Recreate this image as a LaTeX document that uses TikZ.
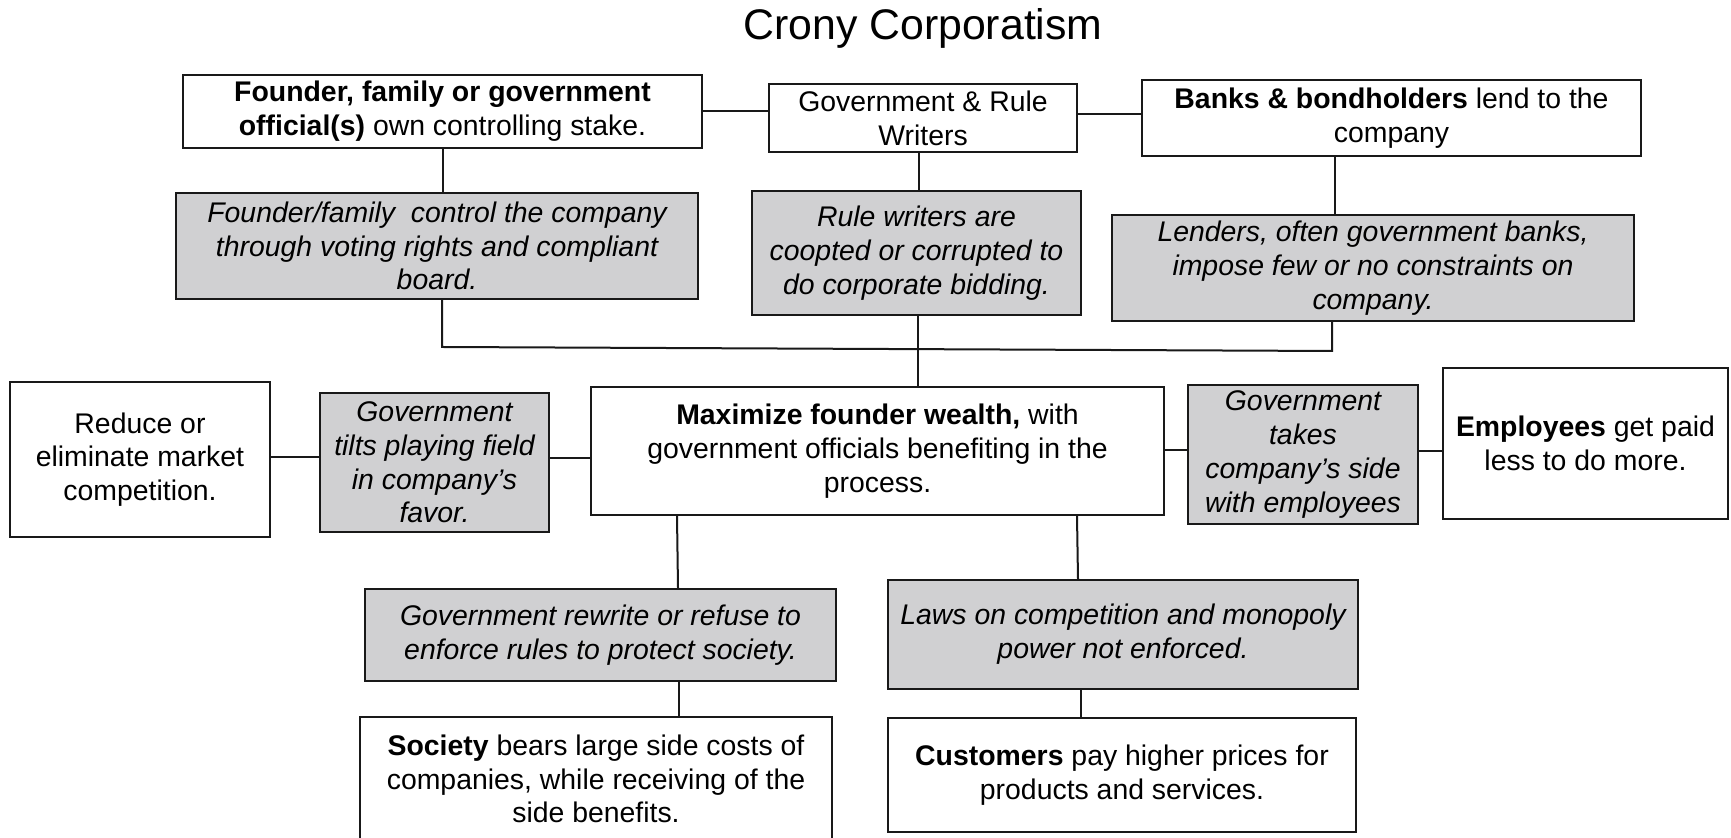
\documentclass[tikz,border=0pt]{standalone}
\usepackage{fontspec}
\setmainfont{Liberation Sans}
\begin{document}
\begin{tikzpicture}[x=0.5pt,y=-0.5pt,
  every node/.style={inner sep=0pt, align=center, font=\fontsize{14.2pt}{16.9pt}\selectfont},
  sz/.style 2 args={minimum width=#1*0.5pt, minimum height=#2*0.5pt},
  plainbox/.style={draw=black!90, line width=1.15pt, fill=white},
  greybox/.style={draw=black!90, line width=1.15pt, fill=boxgrey, font=\fontsize{14.2pt}{16.9pt}\selectfont\itshape},
  link/.style={draw=black!90, line width=1pt}]
\definecolor{boxgrey}{RGB}{208,208,210}
\useasboundingbox (0,0) rectangle (1731,838);

% title
\node[anchor=base, font=\fontsize{21.4pt}{24pt}\selectfont] (title) at (923,40) {Crony Corporatism};

% top row
\node[plainbox, sz={519}{73}] (founder) at (442.5,111.5)
  {\textbf{Founder, family or government}\\\textbf{official(s)} own controlling stake.};
\node[plainbox, sz={308}{68}] (gov) at (923,118) {Government \& Rule\\Writers};
\node[plainbox, sz={499}{76}] (banks) at (1391.5,118)
  {\textbf{Banks \& bondholders} lend to the\\company};

% second row
\node[greybox, sz={522}{106}] (fam) at (437,246)
  {Founder/family\ \ control the company\\through voting rights and compliant\\board.};
\node[greybox, sz={329}{124}] (rule) at (916.5,253)
  {Rule writers are\\coopted or corrupted to\\do corporate bidding.};
\node[greybox, sz={522}{106}] (lend) at (1373,268)
  {Lenders, often government banks,\\impose few or no constraints on\\company.};

% middle row
\node[plainbox, sz={260}{155}] (reduce) at (140,459.5) {Reduce or\\eliminate market\\competition.};
\node[greybox, sz={229}{139}] (tilts) at (434.5,462.5) {Government\\tilts playing field\\in company's\\favor.};
\node[plainbox, sz={573}{128}] (max) at (877.5,451)
  {\textbf{Maximize founder wealth,} with\\government officials benefiting in the\\process.};
\node[greybox, sz={230}{139}] (takes) at (1303,454.5) {Government\\takes\\company's side\\with employees};
\node[plainbox, sz={285}{151}] (emp) at (1585.5,443.5) {\textbf{Employees} get paid\\less to do more.};

% lower rows
\node[greybox, sz={471}{92}] (rewrite) at (600.5,635)
  {Government rewrite or refuse to\\enforce rules to protect society.};
\node[greybox, sz={470}{109}] (laws) at (1123,634.5)
  {Laws on competition and monopoly\\power not enforced.};
\node[plainbox, sz={472}{124}] (society) at (596,779)
  {\textbf{Society} bears large side costs of\\companies, while receiving of the\\side benefits.};
\node[plainbox, sz={468}{114}] (cust) at (1122,775)
  {\textbf{Customers} pay higher prices for\\products and services.};

% connectors along the top
\draw[link] (founder.east) -- (founder.east -| gov.west);
\draw[link] (gov.east |- 0,114) -- (banks.west |- 0,114);
\draw[link] (founder.south) -- (founder.south |- fam.north);
\draw[link] (gov.south -| 919,0) -- (rule.north -| 919,0);
\draw[link] (banks.south -| 1335,0) -- (lend.north -| 1335,0);

% bus joining the three grey boxes to the centre
\coordinate (busL) at (442,347);
\coordinate (busR) at (1332,351);
\draw[link] (fam.south -| busL) -- (busL) -- (busR) -- (lend.south -| busR);
\draw[link] (rule.south -| 918,0) -- (max.north -| 918,0);

% side chains
\draw[link] (reduce.east |- 0,457) -- (tilts.west |- 0,457);
\draw[link] (tilts.east |- 0,458) -- (max.west |- 0,458);
\draw[link] (max.east |- 0,450) -- (takes.west |- 0,450);
\draw[link] (takes.east |- 0,451) -- (emp.west |- 0,451);

% downward chains
\draw[link] (max.south -| 677,0) -- (rewrite.north -| 678,0);
\draw[link] (rewrite.south -| 679,0) -- (society.north -| 679,0);
\draw[link] (max.south -| 1077,0) -- (laws.north -| 1078,0);
\draw[link] (laws.south -| 1081,0) -- (cust.north -| 1081,0);
\end{tikzpicture}
\end{document}
